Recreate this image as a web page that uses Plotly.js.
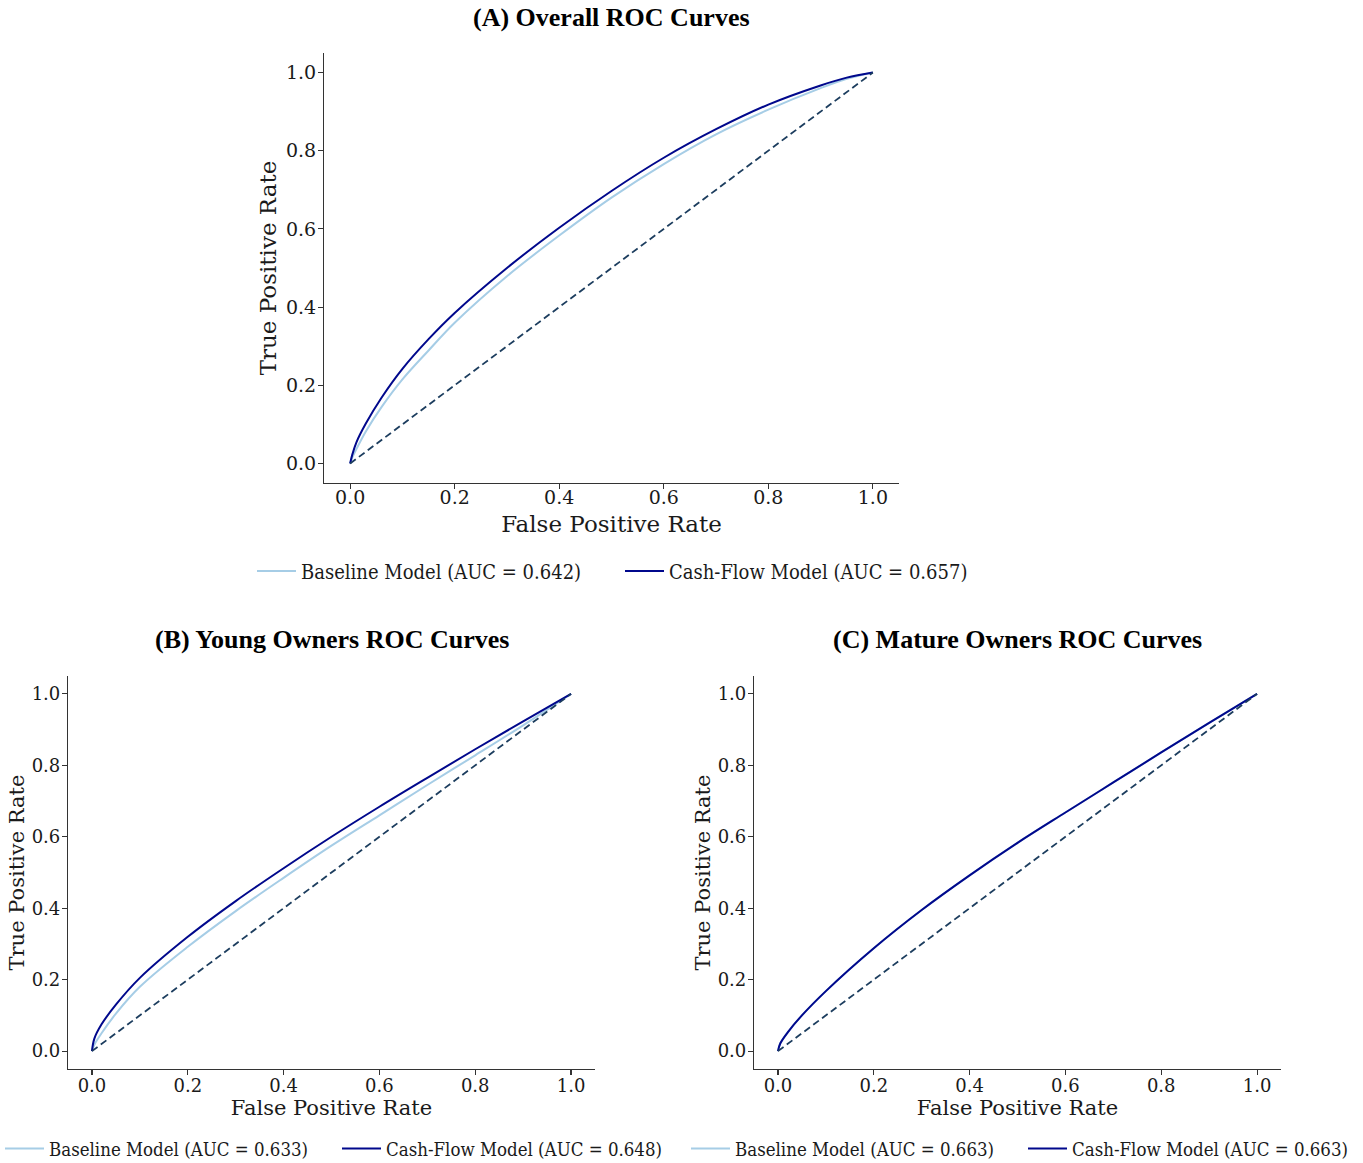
<!DOCTYPE html>
<html>
<head>
<meta charset="utf-8">
<script src="https://cdn.plot.ly/plotly-3.0.1.min.js"></script>
<style>
  html, body { margin: 0; padding: 0; background: #ffffff; }
  #chart { width: 1363px; height: 1163px; }
</style>
</head>
<body>
<div id="chart"></div>
<script>
// ROC curves for the baseline and cash-flow default models

// (A) overall sample
const fprOverall      = [0, 0.004, 0.012, 0.03, 0.06, 0.10, 0.15, 0.20, 0.30, 0.40, 0.50, 0.60, 0.70, 0.80, 0.90, 0.95, 1.00];
const tprOverallCash  = [0, 0.022, 0.054, 0.102, 0.168, 0.242, 0.318, 0.385, 0.500, 0.603, 0.697, 0.782, 0.855, 0.918, 0.967, 0.987, 1.00];
const tprOverallBase  = [0, 0.015, 0.037, 0.082, 0.144, 0.215, 0.289, 0.360, 0.479, 0.583, 0.680, 0.766, 0.842, 0.905, 0.960, 0.984, 1.00];

// (B) young owners
const fprYoung        = [0, 0.005, 0.02, 0.05, 0.10, 0.20, 0.30, 0.40, 0.50, 0.60, 0.70, 0.80, 0.90, 1.00];
const tprYoungCash    = [0, 0.035, 0.075, 0.130, 0.205, 0.320, 0.420, 0.512, 0.600, 0.684, 0.765, 0.845, 0.923, 1.00];
const tprYoungBase    = [0, 0.018, 0.050, 0.105, 0.180, 0.292, 0.392, 0.485, 0.575, 0.660, 0.745, 0.828, 0.912, 1.00];

// (C) mature owners
const fprMature       = [0, 0.005, 0.02, 0.05, 0.10, 0.20, 0.30, 0.40, 0.50, 0.60, 0.70, 0.80, 0.90, 1.00];
const tprMatureCash   = [0, 0.022, 0.052, 0.100, 0.168, 0.288, 0.395, 0.492, 0.583, 0.668, 0.752, 0.836, 0.919, 1.00];
const tprMatureBase   = [0, 0.022, 0.052, 0.100, 0.168, 0.288, 0.395, 0.492, 0.583, 0.668, 0.752, 0.836, 0.919, 1.00];

// chance diagonal
const chanceLine = [0, 1];

// legend labels, panel titles and ticks
const baseLabels = ['Baseline Model (AUC = 0.642)', 'Baseline Model (AUC = 0.633)', 'Baseline Model (AUC = 0.663)'];
const cashLabels = ['Cash-Flow Model (AUC = 0.657)', 'Cash-Flow Model (AUC = 0.648)', 'Cash-Flow Model (AUC = 0.663)'];
const panelTitles = ['(A) Overall ROC Curves', '(B) Young Owners ROC Curves', '(C) Mature Owners ROC Curves'];
const tickVals = [0, 0.2, 0.4, 0.6, 0.8, 1.0];
const tickText = ['0.0', '0.2', '0.4', '0.6', '0.8', '1.0'];

const BASE_COLOR = '#a6cde6';
const CASH_COLOR = '#00088c';
const DIAG_COLOR = '#1c3d5e';
const SERIF = '"DejaVu Serif", serif';
const TITLE_FONT = '"Liberation Serif", "Times New Roman", serif';
const LEGEND_FONT = '"DejaVu Serif Condensed", "DejaVu Serif", serif';

const panels = [
  { fpr: fprOverall, cash: tprOverallCash, base: tprOverallBase, xa: 'x',  ya: 'y',  lg: 'legend'  },
  { fpr: fprYoung,   cash: tprYoungCash,   base: tprYoungBase,   xa: 'x2', ya: 'y2', lg: 'legend2' },
  { fpr: fprMature,  cash: tprMatureCash,  base: tprMatureBase,  xa: 'x3', ya: 'y3', lg: 'legend3' }
];

const traces = [];
panels.forEach((p, i) => {
  traces.push({
    x: p.fpr, y: p.base, xaxis: p.xa, yaxis: p.ya, legend: p.lg,
    type: 'scatter', mode: 'lines', name: baseLabels[i],
    line: { color: BASE_COLOR, width: 2, shape: 'spline', smoothing: 1 }
  });
  traces.push({
    x: p.fpr, y: p.cash, xaxis: p.xa, yaxis: p.ya, legend: p.lg,
    type: 'scatter', mode: 'lines', name: cashLabels[i],
    line: { color: CASH_COLOR, width: 2, shape: 'spline', smoothing: 1 }
  });
  traces.push({
    x: chanceLine, y: chanceLine, xaxis: p.xa, yaxis: p.ya,
    type: 'scatter', mode: 'lines', showlegend: false, hoverinfo: 'skip',
    line: { color: DIAG_COLOR, width: 1.8, dash: '7px,4px' }
  });
});

const W = 1363, H = 1163;
const fx = px => px / W;
const fy = px => 1 - px / H;

function axis(domain, anchor, tickSize, labelShift, title, titleSize, standoff) {
  return {
    domain: domain, anchor: anchor, range: [-0.05, 1.05],
    showgrid: false, zeroline: false,
    showline: true, linecolor: '#333333', linewidth: 1.1, mirror: false,
    ticks: 'outside', ticklen: 5, tickwidth: 1.1, tickcolor: '#333333',
    ticklabelstandoff: labelShift,
    tickvals: tickVals, ticktext: tickText,
    tickfont: { family: SERIF, size: tickSize, color: '#1a1a1a' },
    title: { text: title, font: { family: SERIF, size: titleSize, color: '#1a1a1a' }, standoff: standoff },
    automargin: false, fixedrange: true
  };
}

// legends are anchored by their left edge
function legendBox(left, mid, size, entry) {
  return {
    orientation: 'h', x: fx(left), y: fy(mid), xanchor: 'left', yanchor: 'middle',
    itemwidth: 39, entrywidth: entry, entrywidthmode: 'pixels',
    font: { family: LEGEND_FONT, size: size, color: '#1a1a1a' },
    bgcolor: 'rgba(0,0,0,0)', borderwidth: 0
  };
}

const layout = {
  width: W, height: H,
  margin: { l: 0, r: 0, t: 0, b: 0, autoexpand: false },
  paper_bgcolor: '#ffffff', plot_bgcolor: '#ffffff',
  showlegend: true,
  xaxis:  axis([fx(324), fx(899)],  'y',  19, -8, 'False Positive Rate', 23, 9),
  yaxis:  axis([fy(483), fy(53)],   'x',  19, -2, 'True Positive Rate', 23, 2),
  xaxis2: axis([fx(68),  fx(595)],  'y2', 18, -5, 'False Positive Rate', 21, 4),
  yaxis2: axis([fy(1069), fy(676)], 'x2', 18, -2, 'True Positive Rate', 21, 1),
  xaxis3: axis([fx(754), fx(1281)], 'y3', 18, -5, 'False Positive Rate', 21, 4),
  yaxis3: axis([fy(1069), fy(676)], 'x3', 18, -2, 'True Positive Rate', 21, 1),
  legend:  legendBox(252, 571, 20, 314),
  legend2: legendBox(0,   1149, 18.5, 283),
  legend3: legendBox(686, 1149, 18.5, 283),
  annotations: [
    { text: '<b>' + panelTitles[0] + '</b>', x: fx(611.5), y: fy(17),  xref: 'paper', yref: 'paper',
      xanchor: 'center', yanchor: 'middle', showarrow: false, font: { family: TITLE_FONT, size: 26, color: '#000000' } },
    { text: '<b>' + panelTitles[1] + '</b>', x: fx(331.5), y: fy(639), xref: 'paper', yref: 'paper',
      xanchor: 'center', yanchor: 'middle', showarrow: false, font: { family: TITLE_FONT, size: 26, color: '#000000' } },
    { text: '<b>' + panelTitles[2] + '</b>', x: fx(1017.5), y: fy(639), xref: 'paper', yref: 'paper',
      xanchor: 'center', yanchor: 'middle', showarrow: false, font: { family: TITLE_FONT, size: 26, color: '#000000' } }
  ]
};

Plotly.newPlot('chart', traces, layout, { displayModeBar: false, staticPlot: true });
</script>
</body>
</html>
